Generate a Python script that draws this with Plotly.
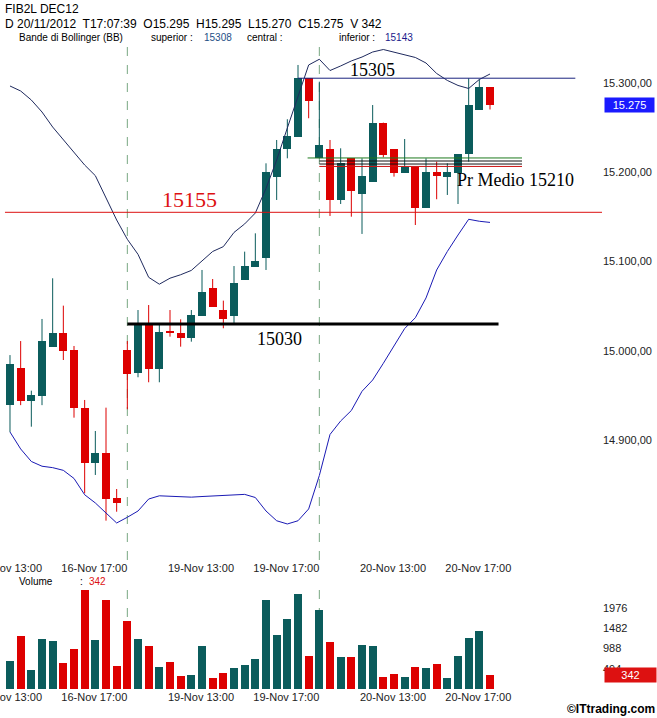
import plotly.graph_objects as go

W, H = 657, 718

# ---------------- data ----------------
candle_idx = list(range(46))
opens = [14939.3, 14980.8, 14944.3, 14949.6, 15004.7, 15020.4, 15001.0, 14936.5, 14875.0, 14886.1,
         14835.1, 15001.0, 14975.0, 15029.0, 14979.8, 15020.4, 15020.4, 15014.8, 15039.4, 15070.0,
         15045.7, 15039.4, 15079.3, 15094.2, 15103.6, 15194.9, 15225.5, 15239.6, 15304.9, 15215.4,
         15225.8, 15168.8, 15215.4, 15175.2, 15189.3, 15255.3, 15225.8, 15199.3, 15205.4, 15160.2,
         15199.8, 15194.9, 15199.3, 15219.9, 15269.5, 15295.0]
highs = [14995.3, 15011.0, 14955.5, 15035.7, 15081.2, 15050.6, 15005.5, 14945.1, 14910.4, 14936.5,
         14845.5, 15011.0, 15045.7, 15051.3, 15030.0, 15045.7, 15035.3, 15045.7, 15090.5, 15080.4,
         15056.2, 15094.9, 15111.0, 15131.5, 15209.8, 15235.9, 15259.1, 15319.8, 15304.9, 15301.1,
         15235.9, 15226.6, 15215.4, 15215.4, 15275.0, 15255.3, 15225.8, 15237.0, 15205.4, 15215.4,
         15211.6, 15209.8, 15220.2, 15304.9, 15303.8, 15295.0]
lows = [14909.3, 14939.3, 14915.2, 14939.3, 15004.7, 14989.8, 14925.3, 14840.7, 14861.2, 14810.1,
        14820.1, 14934.7, 14970.5, 14964.9, 14964.9, 15015.9, 15004.7, 15010.3, 15039.4, 15049.4,
        15025.3, 15030.9, 15079.3, 15094.2, 15090.5, 15168.8, 15215.4, 15239.6, 15260.2, 15215.4,
        15150.9, 15164.3, 15150.1, 15130.8, 15189.3, 15216.6, 15194.9, 15199.3, 15140.8, 15160.2,
        15169.6, 15174.4, 15164.3, 15211.6, 15269.5, 15270.0]
closes = [14985.2, 14944.3, 14950.7, 15011.0, 15020.4, 15000.2, 14935.8, 14875.0, 14886.1, 14834.0,
          14830.2, 14974.2, 15029.0, 14979.8, 15020.8, 15020.4, 15014.8, 15040.2, 15065.5, 15049.4,
          15035.3, 15075.6, 15094.9, 15100.9, 15199.8, 15225.8, 15240.4, 15304.9, 15279.9, 15230.3,
          15168.8, 15209.8, 15179.2, 15195.6, 15255.3, 15219.1, 15199.3, 15205.4, 15160.2, 15199.8,
          15195.6, 15199.8, 15220.2, 15275.1, 15295.5, 15275.0]
volumes = [683, 1301, 461, 1219, 1177, 626, 972, 2429, 1194, 2182,
           552, 1663, 1219, 1046, 527, 650, 329, 354, 1046, 280,
           403, 502, 576, 733, 2182, 1317, 1713, 2330, 799, 1935,
           1144, 774, 774, 1070, 1046, 305, 379, 305, 527, 502,
           601, 280, 799, 1243, 1416, 342]
bb_upper = [15296.3, 15290.7, 15280.6, 15267.2, 15250.4, 15236.5, 15222.8, 15207.9, 15196.0, 15170.2,
            15146.4, 15124.8, 15108.0, 15082.3, 15074.6, 15081.3, 15085.2, 15090.0, 15100.6, 15111.2,
            15116.6, 15132.5, 15142.0, 15154.2, 15181.7, 15213.5, 15249.3, 15284.6, 15319.8, 15326.2,
            15313.6, 15318.7, 15324.3, 15328.7, 15334.3, 15337.1, 15334.3, 15331.4, 15328.2, 15322.0,
            15310.3, 15302.5, 15296.9, 15293.5, 15303.6, 15309.7]
bb_lower = [14909.3, 14890.3, 14876.3, 14871.0, 14869.4, 14866.4, 14857.3, 14839.1, 14829.9, 14818.7,
            14807.5, 14813.9, 14820.9, 14834.3, 14837.9, 14837.4, 14836.6, 14836.4, 14837.1, 14837.9,
            14838.5, 14839.0, 14839.5, 14836.0, 14820.9, 14810.0, 14806.4, 14810.0, 14823.2, 14860.6,
            14906.5, 14921.6, 14933.3, 14954.8, 14967.4, 14986.1, 15006.1, 15025.0, 15037.1, 15059.2,
            15090.5, 15111.2, 15129.6, 15147.2, 15145.0, 15143.7]

x_tick_vals = [3, 11, 21, 29, 39, 47]
# first label is shown truncated ("...ov 13:00") at the left edge in the original
x_tick_text = ["ov 13:00", "16-Nov 17:00", "19-Nov 13:00", "19-Nov 17:00",
               "20-Nov 13:00", "20-Nov 17:00"]
price_ticks = [14900, 15000, 15100, 15200, 15300]
vol_ticks = [494, 988, 1482, 1976]
session_marks = [11, 29]

level_resist = 15305
level_red = 15155
level_support = 15030
pr_medio_levels = [15215.8, 15212.4, 15209.0, 15206.3]
pr_medio_colors = ["#1e7a1e", "#111111", "#111111", "#cc1111"]

# ---------------- styles ----------------
TEAL = "#0b5c5c"
RED = "#dd0000"
UP_BAND = "#1f2a5e"
LO_BAND = "#1a1ab4"

X0, X1 = -0.937, 55.5
def py(px):  # pixel row -> paper y
    return 1 - px / H
def pxx(px):
    return px / W

main_dom = [py(560), py(42)]
vol_dom = [py(689), py(587)]
x_dom = [0, 602 / W]

fig = go.Figure()

colors = [TEAL if c > o else RED for o, c in zip(opens, closes)]

# wicks
for col in (TEAL, RED):
    wx, wy = [], []
    for i, o, h, l, c, k in zip(candle_idx, opens, highs, lows, closes, colors):
        if k == col:
            wx += [i, i, None]
            wy += [l, h, None]
    fig.add_trace(go.Scatter(x=wx, y=wy, mode="lines", line=dict(color=col, width=1),
                             hoverinfo="skip", showlegend=False, xaxis="x", yaxis="y"))

# bodies
fig.add_trace(go.Bar(
    x=candle_idx,
    base=[min(o, c) for o, c in zip(opens, closes)],
    y=[max(abs(c - o), 1.3) for o, c in zip(opens, closes)],
    width=0.75, marker=dict(color=colors, line=dict(width=0)),
    showlegend=False, xaxis="x", yaxis="y"))

# bollinger bands
fig.add_trace(go.Scatter(x=candle_idx, y=bb_upper, mode="lines",
                         line=dict(color=UP_BAND, width=1), showlegend=False,
                         xaxis="x", yaxis="y"))
fig.add_trace(go.Scatter(x=candle_idx, y=bb_lower, mode="lines",
                         line=dict(color=LO_BAND, width=1), showlegend=False,
                         xaxis="x", yaxis="y"))

# volume
fig.add_trace(go.Bar(x=candle_idx, y=volumes, width=0.75,
                     marker=dict(color=colors, line=dict(width=0)),
                     showlegend=False, xaxis="x2", yaxis="y2"))

shapes = []
for s in session_marks:
    for dom in (main_dom, vol_dom):
        shapes.append(dict(type="line", xref="x", yref="paper", x0=s, x1=s,
                           y0=dom[0], y1=dom[1],
                           line=dict(color="#79a882", width=1, dash="dash"), layer="below"))
shapes.append(dict(type="line", xref="x", yref="y", x0=27, x1=53,
                   y0=level_resist, y1=level_resist, line=dict(color="#1a237e", width=1)))
shapes.append(dict(type="line", xref="x", yref="y", x0=-0.47, x1=55.5,
                   y0=level_red, y1=level_red, line=dict(color="#dd1111", width=1)))
shapes.append(dict(type="line", xref="x", yref="y", x0=11, x1=45.8,
                   y0=level_support, y1=level_support, line=dict(color="#000000", width=3)))
for k, (v, c) in enumerate(zip(pr_medio_levels, pr_medio_colors)):
    shapes.append(dict(type="line", xref="x", yref="y", x0=27.9 if k == 0 else 29, x1=48,
                       y0=v, y1=v, line=dict(color=c, width=1)))

serif = "Liberation Serif, Times New Roman, serif"
sans = "Liberation Sans, Arial, sans-serif"

ann = []
ann.append(dict(xref="x", yref="y", x=34.0, y=15314, text="15305", showarrow=False,
                font=dict(family=serif, size=18, color="#000")))
ann.append(dict(xref="x", yref="y", x=16.8, y=15169, text="15155", showarrow=False,
                font=dict(family=serif, size=22, color="#dd1111")))
ann.append(dict(xref="x", yref="y", x=25.3, y=15013, text="15030", showarrow=False,
                font=dict(family=serif, size=18, color="#000")))
ann.append(dict(xref="x", yref="y", x=47.4, y=15191, text="Pr Medio 15210", showarrow=False,
                font=dict(family=serif, size=18, color="#000")))

def hdr(x, y, t, size=12, color="#000"):
    ann.append(dict(xref="paper", yref="paper", x=pxx(x), y=py(y), text=t, showarrow=False,
                    xanchor="left", yanchor="middle", font=dict(family=sans, size=size, color=color)))

hdr(3, 9, "FIB2L DEC12", 12)
hdr(3, 24, "D 20/11/2012  T17:07:39  O15.295  H15.295  L15.270  C15.275  V 342", 12)
hdr(17, 37, "Bande di Bollinger (BB)", 10)
hdr(149, 37, "superior :", 10)
hdr(202, 37, "15308", 10, "#1d4f86")
hdr(245, 37, "central :", 10)
hdr(337, 37, "inferior :", 10)
hdr(383, 37, "15143", 10, "#1a1a8c")
hdr(17, 581, "Volume", 10)
hdr(78, 581, ":", 10)
hdr(87, 581, "342", 10, "#dd1111")

ann.append(dict(xref="paper", yref="y", x=pxx(604), y=closes[-1], text="15.275", showarrow=False,
                xanchor="left", yanchor="middle", width=47, height=12, bgcolor="#1a1aff",
                font=dict(family=sans, size=11, color="#ffffff")))
ann.append(dict(xref="paper", yref="y2", x=pxx(604), y=volumes[-1], text="342", showarrow=False,
                xanchor="left", yanchor="middle", width=49, height=12, bgcolor="#dd1111",
                font=dict(family=sans, size=11, color="#ffffff")))
ann.append(dict(xref="paper", yref="paper", x=1, y=py(709), text="<b>©ITtrading.com</b>",
                showarrow=False, xanchor="right", yanchor="middle",
                font=dict(family=sans, size=12, color="#000")))

xcommon = dict(range=[X0, X1], domain=x_dom, showgrid=False, zeroline=False, showline=False,
               tickmode="array", tickvals=x_tick_vals, ticktext=x_tick_text, ticks="",
               ticklabelposition="outside left", ticklabeloverflow="allow", automargin=False,
               tickfont=dict(family=sans, size=11, color="#222"), fixedrange=True)

fig.update_layout(
    width=W, height=H, margin=dict(l=0, r=0, t=0, b=0, autoexpand=False),
    paper_bgcolor="white", plot_bgcolor="white",
    separators=",.", bargap=0, showlegend=False,
    xaxis=dict(**xcommon, anchor="y"),
    xaxis2=dict(**xcommon, anchor="y2", matches="x"),
    yaxis=dict(domain=main_dom, range=[14766.1, 15345.5], side="right", anchor="x",
               showgrid=False, zeroline=False, showline=False, ticks="", automargin=False,
               tickmode="array", tickvals=price_ticks, tickformat=",.2f",
               tickfont=dict(family=sans, size=11, color="#222")),
    yaxis2=dict(domain=vol_dom, range=[0, 2494], side="right", anchor="x2",
                showgrid=False, zeroline=False, showline=False, ticks="", automargin=False,
                tickmode="array", tickvals=vol_ticks, tickformat="d",
                tickfont=dict(family=sans, size=11, color="#222")),
    shapes=shapes, annotations=ann,
)

fig.write_html("out.html")
